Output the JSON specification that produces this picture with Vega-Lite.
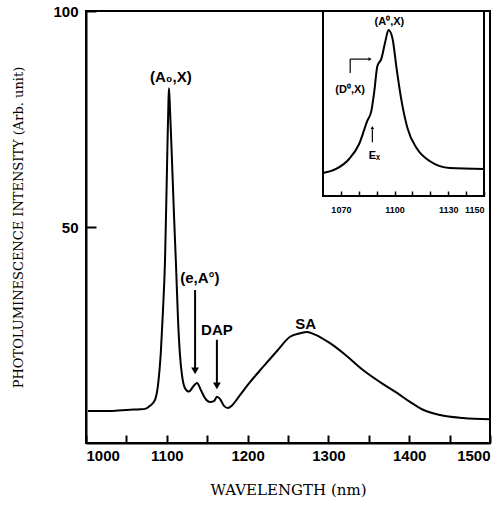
{
  "$schema": "https://vega.github.io/schema/vega-lite/v6.json",
  "width": 404,
  "height": 432,
  "autosize": {"type": "none"},
  "padding": {"left": 86, "top": 11, "right": 7, "bottom": 62},
  "background": "white",
  "config": {
    "view": {"stroke": "black", "strokeWidth": 2},
    "axis": {"grid": false, "domainColor": "black", "tickColor": "black", "labelColor": "black", "titleColor": "black"}
  },
  "datasets": {
    "main": [
      {"nm": 1002.5, "v": 7.4}, {"nm": 1029.7, "v": 7.4}, {"nm": 1054.5, "v": 7.7}, {"nm": 1066.8, "v": 7.8},
      {"nm": 1073, "v": 7.9}, {"nm": 1079.2, "v": 8.6}, {"nm": 1085.4, "v": 10.0}, {"nm": 1089.1, "v": 13.4},
      {"nm": 1092.8, "v": 21.6}, {"nm": 1095.3, "v": 30.8}, {"nm": 1097.8, "v": 42.3}, {"nm": 1100.2, "v": 63.2},
      {"nm": 1102.1, "v": 79.4}, {"nm": 1102.7, "v": 82.1}, {"nm": 1104, "v": 77.1}, {"nm": 1106.4, "v": 65.5},
      {"nm": 1108.9, "v": 52.8}, {"nm": 1111.4, "v": 41.2}, {"nm": 1113.9, "v": 28.5}, {"nm": 1116.3, "v": 20.4},
      {"nm": 1118.8, "v": 15.7}, {"nm": 1122.5, "v": 12.7}, {"nm": 1127.5, "v": 11.9}, {"nm": 1132.4, "v": 13.0},
      {"nm": 1137.4, "v": 13.9}, {"nm": 1142.3, "v": 12.2}, {"nm": 1147.3, "v": 10.4}, {"nm": 1153.5, "v": 9.5},
      {"nm": 1158.4, "v": 9.7}, {"nm": 1162.1, "v": 10.7}, {"nm": 1165.8, "v": 10.2}, {"nm": 1170.8, "v": 8.6},
      {"nm": 1175.7, "v": 8.1}, {"nm": 1180.7, "v": 8.7}, {"nm": 1190.6, "v": 11.1}, {"nm": 1203, "v": 14.1},
      {"nm": 1219.1, "v": 17.6}, {"nm": 1236.4, "v": 21.3}, {"nm": 1252.5, "v": 24.6}, {"nm": 1264.9, "v": 25.4},
      {"nm": 1273.5, "v": 25.7}, {"nm": 1283.4, "v": 25.1}, {"nm": 1302, "v": 23.1}, {"nm": 1323, "v": 20.1},
      {"nm": 1342.8, "v": 16.9}, {"nm": 1363.9, "v": 14.1}, {"nm": 1384.9, "v": 11.6}, {"nm": 1401, "v": 9.5},
      {"nm": 1417.1, "v": 7.7}, {"nm": 1438.1, "v": 6.5}, {"nm": 1466.6, "v": 5.8}, {"nm": 1500, "v": 5.5}
    ],
    "mainArrows": [
      {"x": 1135, "y1": 35.4, "y2": 16.5},
      {"x": 1162, "y1": 23.9, "y2": 13.1}
    ],
    "mainHeads": [
      {"x": 1135, "y": 16.7},
      {"x": 1162, "y": 13.2}
    ],
    "mainLabels": [
      {"x": 1105, "y": 84.8, "t": "(A₀,X)"},
      {"x": 1141, "y": 38.2, "t": "(e,A°)"},
      {"x": 1162, "y": 26.1, "t": "DAP"},
      {"x": 1272, "y": 27.6, "t": "SA"}
    ],
    "inset": [
      {"nm": 1060, "v": 12.4}, {"nm": 1067.3, "v": 14.6}, {"nm": 1074.6, "v": 20}, {"nm": 1080.2, "v": 28.1},
      {"nm": 1084.7, "v": 40.5}, {"nm": 1087, "v": 45.9}, {"nm": 1088.7, "v": 56.8}, {"nm": 1090.4, "v": 70.3},
      {"nm": 1092.6, "v": 74.1}, {"nm": 1094.9, "v": 83.8}, {"nm": 1096.6, "v": 89.7}, {"nm": 1098.8, "v": 85.4},
      {"nm": 1101.1, "v": 69.2}, {"nm": 1103.9, "v": 51.4}, {"nm": 1107.2, "v": 36.8}, {"nm": 1112.3, "v": 25.9},
      {"nm": 1119.6, "v": 18.9}, {"nm": 1130.9, "v": 15.1}, {"nm": 1150, "v": 14.6}
    ],
    "insetFrame": [{"x": 1060, "x2": 1150, "y": 0, "y2": 100}],
    "insetSegs": [
      {"x": 1075.2, "x2": 1075.2, "y": 66.5, "y2": 74},
      {"x": 1075.2, "x2": 1085.5, "y": 74, "y2": 74},
      {"x": 1087.6, "x2": 1087.6, "y": 29, "y2": 36}
    ],
    "insetHeads": [
      {"x": 1086.3, "y": 74, "s": "triangle-right"},
      {"x": 1087.6, "y": 37, "s": "triangle-up"}
    ],
    "insetLabels": [
      {"x": 1097.1, "y": 94, "t": "(A⁰,X)"},
      {"x": 1075.2, "y": 57.3, "t": "(D⁰,X)"},
      {"x": 1088.7, "y": 21.6, "t": "Eₓ"}
    ]
  },
  "layer": [
    {
      "layer": [
        {
          "data": {"name": "main"},
          "mark": {"type": "line", "color": "black", "strokeWidth": 2, "interpolate": "monotone"},
          "encoding": {
            "x": {
              "field": "nm", "type": "quantitative",
              "scale": {"domain": [1000, 1500], "nice": false, "zero": false},
              "axis": {
                "orient": "bottom",
                "values": [1000, 1050, 1100, 1150, 1200, 1250, 1300, 1350, 1400, 1450, 1500],
                "format": "d",
                "labelExpr": "datum.value % 100 === 0 ? datum.label : ''",
                "labelFlush": true,
                "tickSize": -8, "tickWidth": 2, "domainWidth": 2,
                "labelFont": "Liberation Sans", "labelFontWeight": "bold", "labelFontSize": 15,
                "labelPadding": 13,
                "title": "WAVELENGTH (nm)",
                "titleFont": "DejaVu Serif", "titleFontWeight": "normal", "titleFontSize": 15,
                "titlePadding": 19
              }
            },
            "y": {
              "field": "v", "type": "quantitative",
              "scale": {"domain": [0, 100], "nice": false, "zero": false},
              "axis": {
                "orient": "left",
                "values": [50, 100],
                "tickSize": -10, "tickWidth": 2, "domainWidth": 2,
                "labelFont": "Liberation Sans", "labelFontWeight": "bold", "labelFontSize": 15,
                "labelPadding": 18,
                "title": "PHOTOLUMINESCENCE INTENSITY (Arb. unit)",
                "titleFont": "DejaVu Serif", "titleFontWeight": "normal", "titleFontSize": 13,
                "titlePadding": 27
              }
            }
          }
        },
        {
          "data": {"name": "mainArrows"},
          "mark": {"type": "rule", "color": "black", "strokeWidth": 2},
          "encoding": {
            "x": {"field": "x", "type": "quantitative"},
            "y": {"field": "y1", "type": "quantitative"},
            "y2": {"field": "y2"}
          }
        },
        {
          "data": {"name": "mainHeads"},
          "mark": {"type": "point", "shape": "triangle-down", "filled": true, "color": "black", "size": 60, "opacity": 1},
          "encoding": {
            "x": {"field": "x", "type": "quantitative"},
            "y": {"field": "y", "type": "quantitative"}
          }
        },
        {
          "data": {"name": "mainLabels"},
          "mark": {"type": "text", "font": "Liberation Sans", "fontWeight": "bold", "fontSize": 15, "color": "black"},
          "encoding": {
            "x": {"field": "x", "type": "quantitative"},
            "y": {"field": "y", "type": "quantitative"},
            "text": {"field": "t"}
          }
        }
      ]
    },
    {
      "layer": [
        {
          "data": {"name": "insetFrame"},
          "mark": {"type": "rect", "fill": "white", "fillOpacity": 0, "stroke": "black", "strokeWidth": 2},
          "encoding": {
            "x": {
              "field": "x", "type": "quantitative",
              "scale": {"domain": [1060, 1150], "range": [237, 398], "nice": false, "zero": false},
              "axis": {
                "orient": "bottom", "offset": -247, "domain": false,
                "values": [1070, 1080, 1090, 1100, 1110, 1120, 1130, 1140, 1150],
                "format": "d",
                "labelExpr": "(datum.value == 1070 || datum.value == 1100 || datum.value == 1130 || datum.value == 1150) ? datum.label : ''",
                "labelFlush": true,
                "tickSize": -5, "tickWidth": 1.5,
                "labelFont": "Liberation Sans", "labelFontWeight": "bold", "labelFontSize": 9,
                "labelPadding": 14,
                "title": null
              }
            },
            "x2": {"field": "x2"},
            "y": {
              "field": "y", "type": "quantitative",
              "scale": {"domain": [0, 100], "range": [185, 0], "nice": false, "zero": false},
              "axis": null
            },
            "y2": {"field": "y2"}
          }
        },
        {
          "data": {"name": "inset"},
          "mark": {"type": "line", "color": "black", "strokeWidth": 2, "interpolate": "monotone"},
          "encoding": {
            "x": {"field": "nm", "type": "quantitative"},
            "y": {"field": "v", "type": "quantitative"}
          }
        },
        {
          "data": {"name": "insetSegs"},
          "mark": {"type": "rule", "color": "black", "strokeWidth": 1.2},
          "encoding": {
            "x": {"field": "x", "type": "quantitative"},
            "x2": {"field": "x2"},
            "y": {"field": "y", "type": "quantitative"},
            "y2": {"field": "y2"}
          }
        },
        {
          "data": {"name": "insetHeads"},
          "mark": {"type": "point", "filled": true, "color": "black", "size": 14, "opacity": 1},
          "encoding": {
            "x": {"field": "x", "type": "quantitative"},
            "y": {"field": "y", "type": "quantitative"},
            "shape": {"field": "s", "type": "nominal", "scale": null}
          }
        },
        {
          "data": {"name": "insetLabels"},
          "mark": {"type": "text", "font": "Liberation Sans", "fontWeight": "bold", "fontSize": 11, "color": "black"},
          "encoding": {
            "x": {"field": "x", "type": "quantitative"},
            "y": {"field": "y", "type": "quantitative"},
            "text": {"field": "t"}
          }
        }
      ]
    }
  ],
  "resolve": {"scale": {"x": "independent", "y": "independent"}, "axis": {"x": "independent", "y": "independent"}}
}
